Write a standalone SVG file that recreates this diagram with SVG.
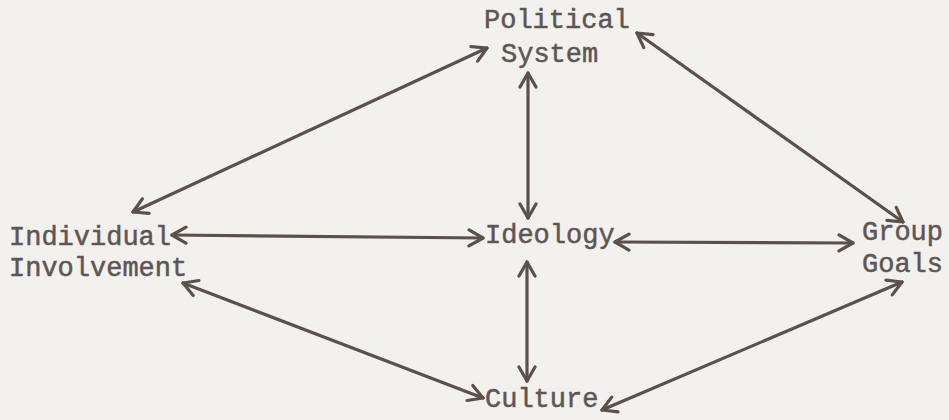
<svg xmlns="http://www.w3.org/2000/svg" width="949" height="420" viewBox="0 0 949 420">
  <style>
    .lbl { font-family: "Liberation Mono", "DejaVu Sans Mono", monospace; font-size: 27px; fill: #5f5553; stroke: #5f5553; stroke-width: 0.5; }
    .edge { stroke: #5c504b; stroke-width: 3.2; fill: none; stroke-linecap: round; }
  </style>
  <defs>
    <marker id="ah" viewBox="-16 -10 20 20" refX="0" refY="0" markerWidth="20" markerHeight="20" markerUnits="userSpaceOnUse" orient="auto-start-reverse">
      <path d="M-14,-8 L0,0 L-14,8" fill="none" stroke="#5c504b" stroke-width="3.2" stroke-linecap="round" stroke-linejoin="round"/>
    </marker>
  </defs>
  <rect width="949" height="420" fill="#f2f1ee"/>
  <g id="connectors">
    <line class="edge" x1="133" y1="212" x2="487" y2="48" marker-start="url(#ah)" marker-end="url(#ah)"/>
    <line class="edge" x1="637" y1="33" x2="903" y2="222" marker-start="url(#ah)" marker-end="url(#ah)"/>
    <line class="edge" x1="528" y1="73" x2="528" y2="218" marker-start="url(#ah)" marker-end="url(#ah)"/>
    <line class="edge" x1="172" y1="235" x2="483" y2="238" marker-start="url(#ah)" marker-end="url(#ah)"/>
    <line class="edge" x1="615" y1="242" x2="853" y2="243" marker-start="url(#ah)" marker-end="url(#ah)"/>
    <line class="edge" x1="527" y1="262" x2="527" y2="381" marker-start="url(#ah)" marker-end="url(#ah)"/>
    <line class="edge" x1="183" y1="283" x2="483" y2="398" marker-start="url(#ah)" marker-end="url(#ah)"/>
    <line class="edge" x1="902" y1="282" x2="602" y2="410" marker-start="url(#ah)" marker-end="url(#ah)"/>
  </g>
  <g id="political-system">
    <text class="lbl" x="484" y="28">Political</text>
    <text class="lbl" x="501" y="62">System</text>
  </g>
  <g id="individual-involvement">
    <text class="lbl" x="9" y="245">Individual</text>
    <text class="lbl" x="9" y="276">Involvement</text>
  </g>
  <g id="ideology">
    <text class="lbl" x="485" y="243">Ideology</text>
  </g>
  <g id="group-goals">
    <text class="lbl" x="862" y="240">Group</text>
    <text class="lbl" x="862" y="272">Goals</text>
  </g>
  <g id="culture">
    <text class="lbl" x="485" y="407">Culture</text>
  </g>
</svg>
